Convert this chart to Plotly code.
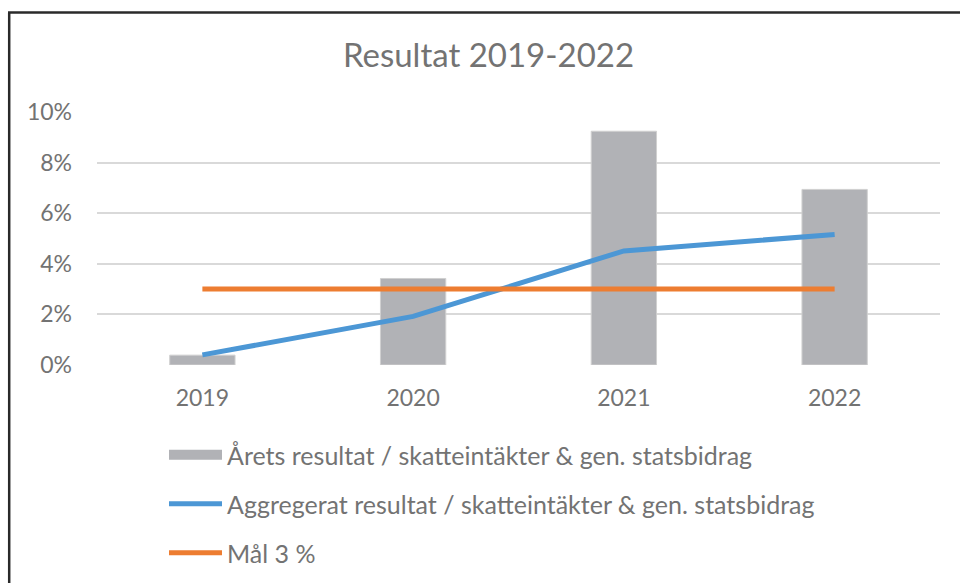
import plotly.graph_objects as go

years = ["2019", "2020", "2021", "2022"]
arets_resultat = [0.0039, 0.0342, 0.0924, 0.0694]
aggregerat = [0.0040, 0.0192, 0.0451, 0.0516]
mal = [0.03, 0.03, 0.03, 0.03]

names = [
    "Årets resultat / skatteintäkter & gen. statsbidrag",
    "Aggregerat resultat / skatteintäkter & gen. statsbidrag",
    "Mål 3 %",
]

FONT = "Lato"
TXT = "#737373"

W, H = 960, 583
L, T = 97, 112
R = W - 940
B = H - 365
pw, ph = W - L - R, H - T - B

def px_x(p):
    return (p - L) / pw

def px_y(p):
    return (H - B - p) / ph

fig = go.Figure()
fig.add_trace(go.Bar(
    x=years, y=arets_resultat, name=names[0], width=0.31,
    marker=dict(color="#B1B2B6", line=dict(color="#D0D0D0", width=1)),
    showlegend=False, legendgroup="a",
))
# legend swatch for the bar series (wide grey block as in the original)
fig.add_trace(go.Scatter(
    x=[None], y=[None], name=names[0], mode="lines",
    line=dict(color="#B1B2B6", width=14), legendgroup="a",
))
fig.add_trace(go.Scatter(
    x=years, y=aggregerat, name=names[1], mode="lines",
    line=dict(color="#4C97D5", width=5), legendgroup="b",
))
fig.add_trace(go.Scatter(
    x=years, y=mal, name=names[2], mode="lines",
    line=dict(color="#ED7D31", width=5), legendgroup="c",
))

fig.update_layout(
    width=W, height=H,
    margin=dict(l=L, r=R, t=T, b=B, autoexpand=False),
    paper_bgcolor="white", plot_bgcolor="white",
    font=dict(family=FONT, color=TXT),
    title=dict(text="Resultat 2019-2022", x=488.5 / W, xref="container", xanchor="center",
               y=1 - 55 / H, yref="container", yanchor="middle",
               font=dict(size=33, color=TXT, family=FONT)),
    showlegend=True,
    legend=dict(x=px_x(164), y=px_y(432), xanchor="left", yanchor="top",
                orientation="v", font=dict(size=25, color=TXT, family=FONT),
                tracegroupgap=13.5, bgcolor="rgba(0,0,0,0)", itemwidth=53),
    xaxis=dict(type="category", showgrid=False, zeroline=False, showline=False,
               ticks="", tickfont=dict(size=23, color=TXT, family=FONT),
               ticklabelstandoff=17, range=[-0.5, 3.5]),
    yaxis=dict(range=[0, 0.10], dtick=0.02, tickformat=".0%", showgrid=True,
               gridcolor="#D9D9D9", gridwidth=1.5, zeroline=False, showline=False,
               ticks="", tickfont=dict(size=23, color=TXT, family=FONT),
               ticklabelstandoff=24),
    shapes=[
        dict(type="line", xref="paper", yref="paper",
             x0=px_x(9.2), x1=px_x(9.2), y0=px_y(12.5), y1=px_y(583),
             line=dict(color="#2A2A2A", width=2.5), layer="below"),
        dict(type="line", xref="paper", yref="paper",
             x0=px_x(8), x1=px_x(960), y0=px_y(12.5), y1=px_y(12.5),
             line=dict(color="#2A2A2A", width=2.5), layer="below"),
    ],
)

fig.write_html(
    "out.html",
    config={"displayModeBar": False},
    post_script=(
        "document.documentElement.style.overflow='hidden';"
        "document.documentElement.style.scrollbarWidth='none';"
        "document.body.style.margin='0';"
        "document.body.style.overflow='hidden';"
        "var gd=document.getElementById('{plot_id}');"
        "gd.style.position='fixed';gd.style.left='0px';gd.style.top='0px';"
        "window.scrollTo(0,0);"
    ),
)
